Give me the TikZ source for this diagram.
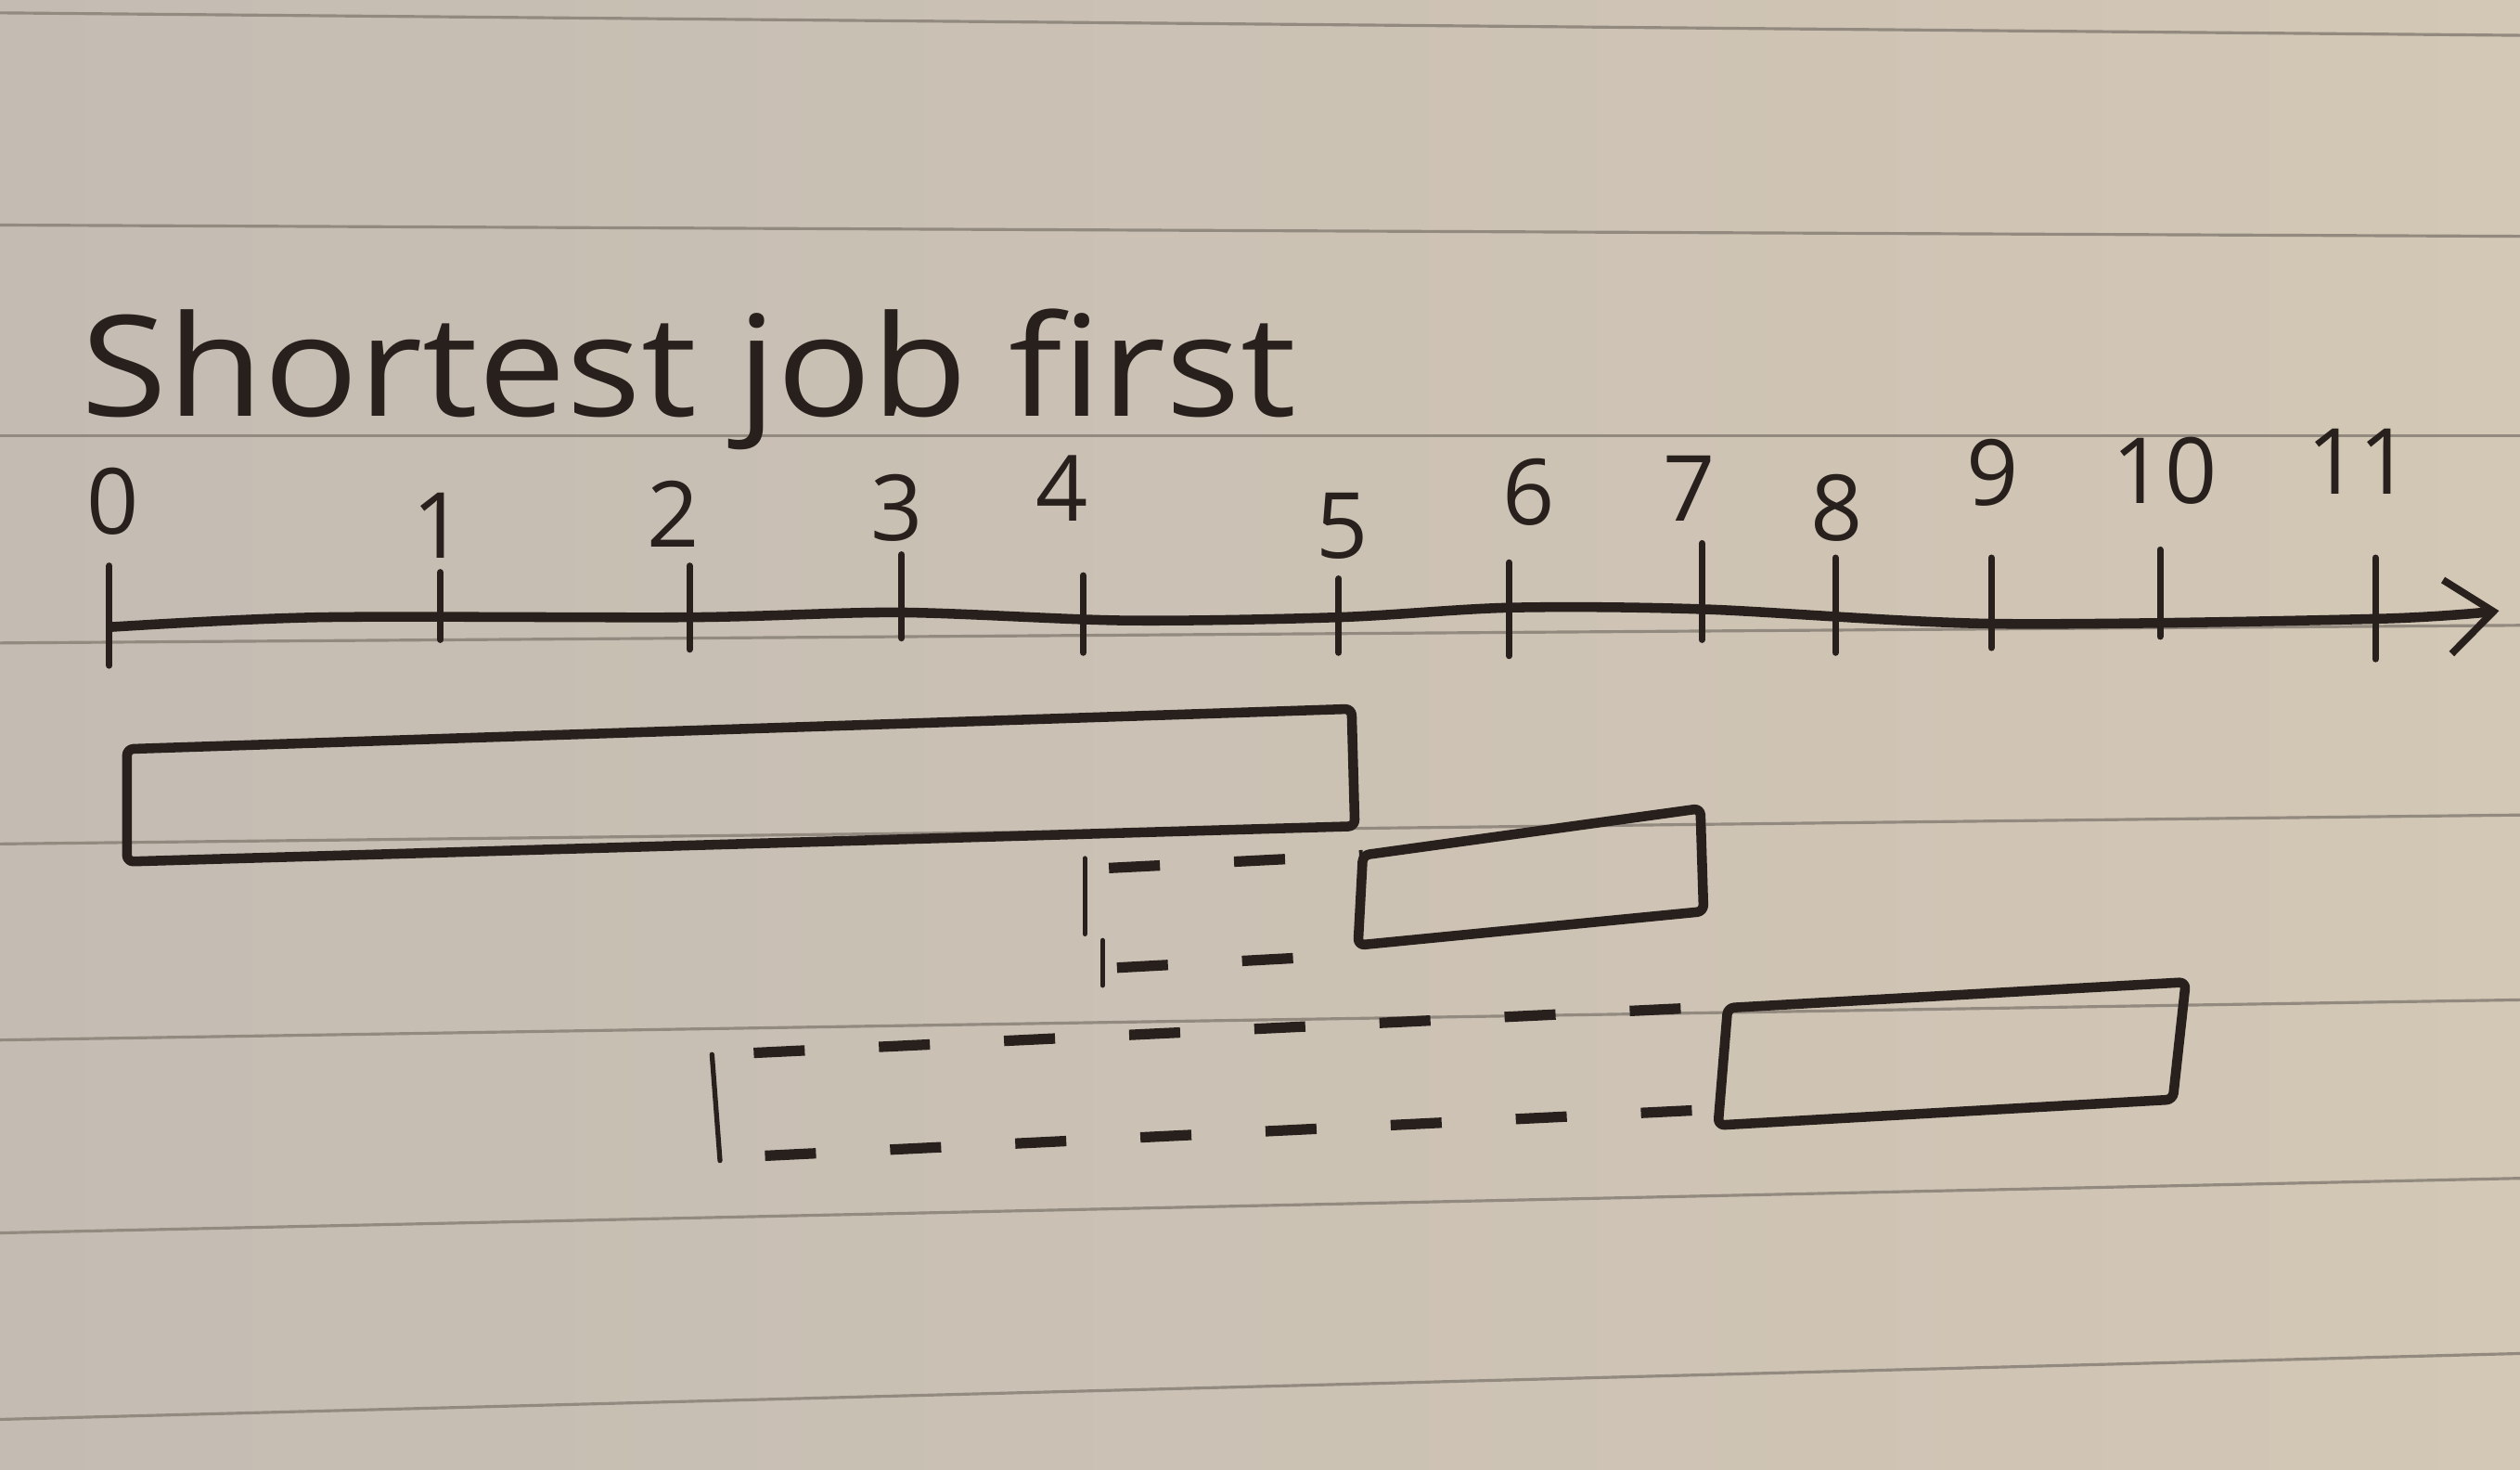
\documentclass[tikz,border=0pt]{standalone}
\usepackage{fontspec}
\setmainfont{Open Sans}
\usetikzlibrary{arrows.meta}
\definecolor{paperleft}{RGB}{196,188,179}
\definecolor{papermid}{RGB}{217,208,194}
\definecolor{paperright}{RGB}{211,199,181}
\definecolor{ruleline}{RGB}{146,137,127}
\definecolor{ink}{RGB}{40,32,28}

\begin{document}
\begin{tikzpicture}[
    x=0.017321cm, y=-0.017321cm,
    rule/.style={draw=ruleline, line width=0.9pt},
    axis/.style={draw=ink, line width=3pt, line cap=round, -{Straight Barb[length=5mm, width=8mm, line width=2.2pt]}},
    tick/.style={draw=ink, line width=2pt, line cap=round},
    ticklabel/.style={text=ink, font=\fontsize{28}{30}\selectfont, inner sep=0pt},
    job/.style={draw=ink, line width=3pt, line join=round, rounded corners=2pt},
    wait/.style={draw=ink, line width=3.2pt, dash pattern=on 0.55cm off 0.8cm},
    waitside/.style={draw=ink, line width=1.5pt, line cap=round}
]

% Paper
\useasboundingbox (0,0) rectangle (1568,914);
\shade[left color=paperleft, middle color=papermid, right color=paperright] (0,0) rectangle (1568,914);
\foreach \yl/\yr in {8/22, 140/147, 271/271, 400/389, 525/507, 647/622, 767/733, 883/842}
  \draw[rule] (0,\yl) -- (1568,\yr);

% Title
\node[text=ink, font=\fontsize{43}{48}\selectfont, anchor=base west, inner sep=0pt] (title) at (50,259) {\scalebox{1.12}[1]{Shortest job first}};

% Time axis
\draw[axis] plot[smooth] coordinates {(70,390) (200,384) (430,384) (560,381) (700,386) (833,384) (940,378) (1060,379) (1240,388) (1478,385) (1555,380)};
\foreach \x/\top/\bot in {68/352/414, 274/356/398, 429/352/404, 561/345/397, 674/358/406, 833/360/406,
                         939/350/408, 1059/338/398, 1142/347/406, 1239/347/403, 1344/342/396, 1478/347/410}
  \draw[tick] (\x,\top) -- (\x,\bot);
\foreach \n/\x/\y in {0/70/312, 1/273/327, 2/419/320, 3/558/316, 4/661/304, 5/835/327,
                      6/951/306, 7/1051/304, 8/1143/316, 9/1240/294, 10/1347/293, 11/1468/287}
  \node[ticklabel] (t\n) at (\x,\y) {\n};

% Jobs
\draw[job] (79,466) -- (841,441) -- (843,514) -- (79,536) -- cycle;
\draw[job] (848,532) -- (1058,503) -- (1060,567) -- (845,588) -- cycle;
\draw[job] (1075,627) -- (1360,611) -- (1352,684) -- (1069,700) -- cycle;

% Waiting time
\draw[waitside] (675,534) -- (675,581);
\draw[waitside] (686,585) -- (686,613);
\draw[wait] (690,540) -- (848,532);
\draw[wait] (695,602) -- (843,594);

\draw[waitside] (443,656) -- (448,722);
\draw[wait] (469,655) -- (1075,626);
\draw[wait] (476,719) -- (1069,690);

\end{tikzpicture}
\end{document}
